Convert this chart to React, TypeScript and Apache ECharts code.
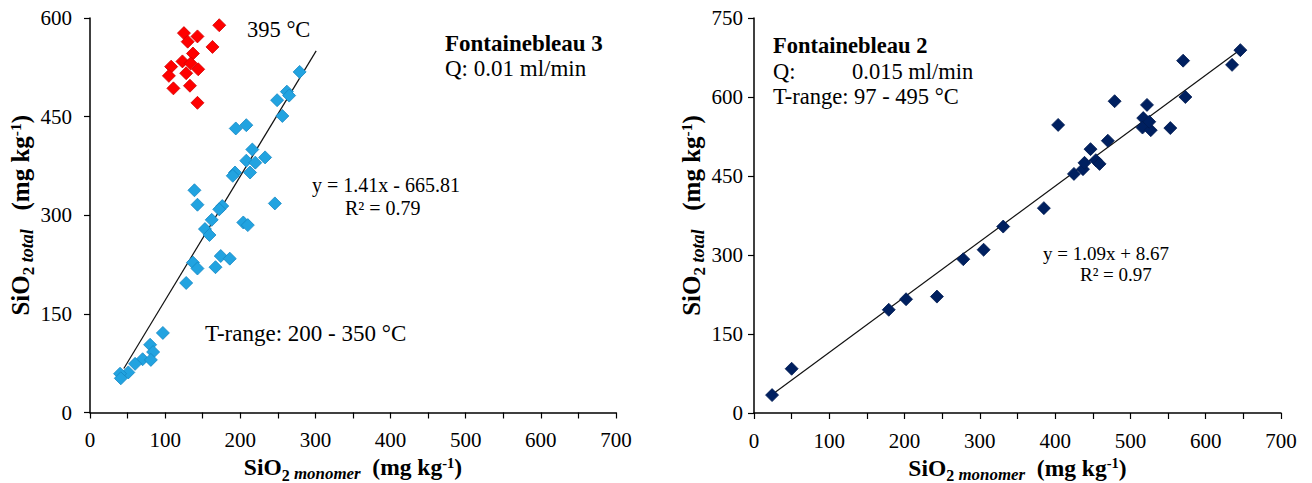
import React, { useEffect, useRef } from "react";
import * as echarts from "echarts";

// ---- Data ----
// Fontainebleau 3, points at 395 °C  [SiO2 monomer, SiO2 total]
const f3Hot: [number, number][] = [
  [172, 589], [125, 577], [143, 572], [130, 564], [163, 556], [137, 546],
  [123, 534], [134, 531], [108, 526], [144, 522], [128, 516], [105, 512],
  [133, 497], [111, 493], [143, 471],
];
// Fontainebleau 3, T-range 200 - 350 °C
const f3Range: [number, number][] = [
  [279, 518], [262, 488], [265, 482], [249, 475], [256, 451], [194, 432],
  [208, 437], [216, 400], [208, 383], [220, 380], [233, 388], [193, 365],
  [190, 360], [213, 365], [139, 338], [143, 316], [246, 318], [176, 314],
  [172, 309], [162, 293], [204, 289], [210, 285], [153, 279], [159, 270],
  [137, 228], [174, 238], [186, 234], [143, 219], [167, 221], [128, 197],
  [97, 121], [80, 103], [84, 92], [70, 81], [81, 80], [60, 74], [51, 61],
  [40, 59], [41, 52],
];
const f3Trend: [number, number][] = [[45, 67], [301, 550]];

// Fontainebleau 2, T-range 97 - 495 °C
const f2Points: [number, number][] = [
  [24, 34], [50, 84], [179, 196], [202, 216], [243, 221], [278, 292],
  [305, 310], [331, 354], [385, 389], [425, 454], [437, 463], [439, 475],
  [447, 501], [454, 480], [459, 473], [470, 517], [404, 547], [479, 592],
  [517, 560], [516, 542], [522, 585], [527, 537], [525, 553], [553, 541],
  [570, 669], [573, 600], [635, 661], [646, 689],
];
const f2Trend: [number, number][] = [[25, 36], [648, 692]];

// Axes
const xMin = 0, xMax = 700, xStep = 100;
const yMin = 0, yStep = 150;
const yMax3 = 600, yMax2 = 750;

const FONT = "'Liberation Serif', 'Times New Roman', serif";

function richName(big: number) {
  return {
    b: { fontFamily: FONT, fontSize: big, fontWeight: "bold", color: "#000" },
    s: { fontFamily: FONT, fontSize: big * 0.68, fontWeight: "bold", color: "#000", verticalAlign: "bottom", padding: [0, 0, -4, 0] },
    i: { fontFamily: FONT, fontSize: big * 0.72, fontWeight: "bold", fontStyle: "italic", color: "#000", verticalAlign: "bottom", padding: [0, 0, -3, 0] },
    p: { fontFamily: FONT, fontSize: big * 0.62, fontWeight: "bold", color: "#000", verticalAlign: "top" },
  };
}

const xName = "{b|SiO}{s|2}{i| monomer}{b|  (mg kg}{p|-1}{b|)}";
const yName = "{b|SiO}{s|2}{i| total}{b|   (mg kg}{p|-1}{b|)}";

function xAxisCfg(gridIndex: number) {
  return {
    type: "value",
    gridIndex,
    min: xMin,
    max: xMax,
    interval: xStep,
    name: xName,
    nameLocation: "middle",
    nameGap: 39,
    nameTextStyle: { rich: richName(23.5) },
    axisLine: { show: true, onZero: false, lineStyle: { color: "#000", width: 1.5 } },
    axisTick: { show: true, length: 6, lineStyle: { color: "#000", width: 1.2 } },
    minorTick: { show: true, splitNumber: 2, length: 6, lineStyle: { color: "#000", width: 1.2 } },
    axisLabel: { color: "#000", fontFamily: FONT, fontSize: 21, margin: 17 },
    splitLine: { show: false },
  };
}

function yAxisCfg(gridIndex: number, max: number, gap: number, labelMargin: number) {
  return {
    type: "value",
    gridIndex,
    min: yMin,
    max,
    interval: yStep,
    name: yName,
    nameLocation: "middle",
    nameGap: gap,
    nameTextStyle: { rich: richName(25) },
    axisLine: { show: true, onZero: false, lineStyle: { color: "#000", width: 1.5 } },
    axisTick: { show: true, length: 6, lineStyle: { color: "#000", width: 1.2 } },
    axisLabel: { color: "#000", fontFamily: FONT, fontSize: 21, margin: labelMargin },
    splitLine: { show: false },
  };
}

function txt(x: number, y: number, text: string, size: number, bold = false) {
  return {
    type: "text",
    x,
    y,
    style: {
      text,
      fill: "#000",
      font: `${bold ? "bold " : ""}${size}px ${FONT}`,
      verticalAlign: "middle",
      align: "left",
    },
  };
}

export default function App() {
  const ref = useRef<HTMLDivElement>(null);

  useEffect(() => {
    if (!ref.current) return;
    const chart = echarts.init(ref.current, undefined, { renderer: "svg" });
    chart.setOption({
      animation: false,
      backgroundColor: "#fff",
      grid: [
        { left: 90, top: 18, width: 526, height: 394.5, outerBoundsMode: "none", containLabel: false },
        { left: 754, top: 18, width: 527, height: 395, outerBoundsMode: "none", containLabel: false },
      ],
      xAxis: [xAxisCfg(0), xAxisCfg(1)],
      yAxis: [yAxisCfg(0, yMax3, 52, 18), yAxisCfg(1, yMax2, 30, 11)],
      series: [
        {
          type: "line",
          xAxisIndex: 0,
          yAxisIndex: 0,
          data: f3Trend,
          symbol: "none",
          lineStyle: { color: "#111", width: 1.2 },
          z: 1,
        },
        {
          type: "scatter",
          xAxisIndex: 0,
          yAxisIndex: 0,
          data: f3Hot,
          symbol: "diamond",
          symbolSize: 13,
          itemStyle: { color: "#ff0000", borderColor: "#d00000", borderWidth: 0.8, opacity: 1 },
          z: 3,
        },
        {
          type: "scatter",
          xAxisIndex: 0,
          yAxisIndex: 0,
          data: f3Range,
          symbol: "diamond",
          symbolSize: 13,
          itemStyle: { color: "#22a3e0", borderColor: "#1588c4", borderWidth: 0.8, opacity: 1 },
          z: 3,
        },
        {
          type: "line",
          xAxisIndex: 1,
          yAxisIndex: 1,
          data: f2Trend,
          symbol: "none",
          lineStyle: { color: "#111", width: 1.2 },
          z: 1,
        },
        {
          type: "scatter",
          xAxisIndex: 1,
          yAxisIndex: 1,
          data: f2Points,
          symbol: "diamond",
          symbolSize: 13,
          itemStyle: { color: "#002060", borderColor: "#001a50", borderWidth: 0.8, opacity: 1 },
          z: 3,
        },
      ],
      graphic: [
        txt(247, 29, "395 °C", 22.5),
        txt(445, 43, "Fontainebleau 3", 23, true),
        txt(445, 68, "Q: 0.01 ml/min", 23),
        txt(312, 185, "y = 1.41x - 665.81", 20),
        txt(345, 208, "R² = 0.79", 20),
        txt(205, 333, "T-range: 200 - 350 °C", 23),
        txt(773, 45, "Fontainebleau 2", 22.5, true),
        txt(773, 71, "Q:", 22.5),
        txt(852, 71, "0.015 ml/min", 22.5),
        txt(773, 96, "T-range: 97 - 495 °C", 22.5),
        txt(1043, 253, "y = 1.09x + 8.67", 19),
        txt(1080, 274, "R² = 0.97", 19),
      ],
    });
    return () => chart.dispose();
  }, []);

  return (
    <div
      ref={ref}
      style={{ position: "fixed", left: 0, top: 0, width: 1312, height: 483, background: "#fff" }}
    />
  );
}
